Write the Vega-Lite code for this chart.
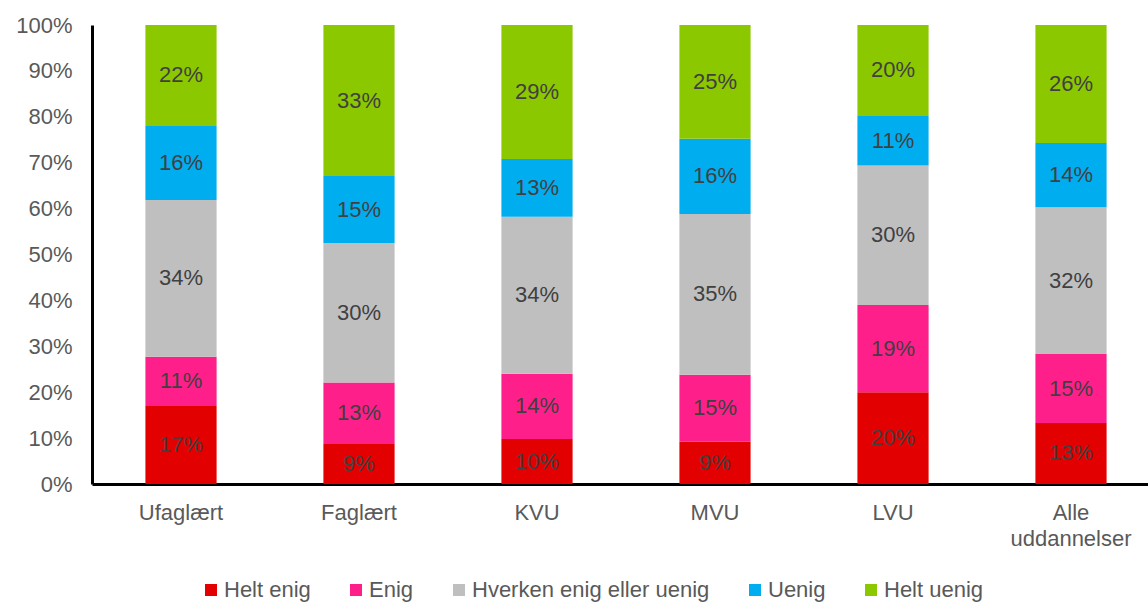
{
  "$schema": "https://vega.github.io/schema/vega-lite/v6.json",
  "autosize": "none",
  "padding": {"left": 92, "top": 25, "right": 0, "bottom": 119},
  "width": 1068,
  "height": 459,
  "background": "white",
  "config": {
    "view": {"stroke": null},
    "font": "Liberation Sans"
  },
  "data": {
    "values": [
      {"edu": "Ufaglært", "answer": "Helt enig", "v": 17.0},
      {"edu": "Ufaglært", "answer": "Enig", "v": 10.7},
      {"edu": "Ufaglært", "answer": "Hverken enig eller uenig", "v": 34.2},
      {"edu": "Ufaglært", "answer": "Uenig", "v": 16.1},
      {"edu": "Ufaglært", "answer": "Helt uenig", "v": 22.0},
      {"edu": "Faglært", "answer": "Helt enig", "v": 8.7},
      {"edu": "Faglært", "answer": "Enig", "v": 13.4},
      {"edu": "Faglært", "answer": "Hverken enig eller uenig", "v": 30.4},
      {"edu": "Faglært", "answer": "Uenig", "v": 14.6},
      {"edu": "Faglært", "answer": "Helt uenig", "v": 32.9},
      {"edu": "KVU", "answer": "Helt enig", "v": 9.8},
      {"edu": "KVU", "answer": "Enig", "v": 14.2},
      {"edu": "KVU", "answer": "Hverken enig eller uenig", "v": 34.2},
      {"edu": "KVU", "answer": "Uenig", "v": 12.6},
      {"edu": "KVU", "answer": "Helt uenig", "v": 29.2},
      {"edu": "MVU", "answer": "Helt enig", "v": 9.2},
      {"edu": "MVU", "answer": "Enig", "v": 14.6},
      {"edu": "MVU", "answer": "Hverken enig eller uenig", "v": 35.0},
      {"edu": "MVU", "answer": "Uenig", "v": 16.4},
      {"edu": "MVU", "answer": "Helt uenig", "v": 24.8},
      {"edu": "LVU", "answer": "Helt enig", "v": 20.0},
      {"edu": "LVU", "answer": "Enig", "v": 19.0},
      {"edu": "LVU", "answer": "Hverken enig eller uenig", "v": 30.4},
      {"edu": "LVU", "answer": "Uenig", "v": 10.8},
      {"edu": "LVU", "answer": "Helt uenig", "v": 19.8},
      {"edu": "Alle uddannelser", "answer": "Helt enig", "v": 13.3},
      {"edu": "Alle uddannelser", "answer": "Enig", "v": 15.0},
      {"edu": "Alle uddannelser", "answer": "Hverken enig eller uenig", "v": 32.0},
      {"edu": "Alle uddannelser", "answer": "Uenig", "v": 14.0},
      {"edu": "Alle uddannelser", "answer": "Helt uenig", "v": 25.7}
    ]
  },
  "transform": [
    {"calculate": "indexof(['Helt enig','Enig','Hverken enig eller uenig','Uenig','Helt uenig'], datum.answer)", "as": "ord"},
    {"stack": "v", "groupby": ["edu"], "sort": [{"field": "ord", "order": "ascending"}], "as": ["v0", "v1"]},
    {"calculate": "(datum.v0 + datum.v1) / 2", "as": "mid"},
    {"calculate": "datum.v / 100", "as": "frac"}
  ],
  "encoding": {
    "x": {
      "field": "edu",
      "type": "nominal",
      "sort": ["Ufaglært", "Faglært", "KVU", "MVU", "LVU", "Alle uddannelser"],
      "scale": {"paddingInner": 0.6, "paddingOuter": 0.3},
      "axis": {
        "title": null,
        "labelAngle": 0,
        "labelFontSize": 22,
        "labelColor": "#595959",
        "labelPadding": 18,
        "labelLineHeight": 26,
        "labelExpr": "datum.value == 'Alle uddannelser' ? ['Alle', 'uddannelser'] : datum.value",
        "ticks": false,
        "domainColor": "#000000",
        "domainWidth": 3
      }
    }
  },
  "layer": [
    {
      "mark": {"type": "bar"},
      "encoding": {
        "y": {
          "field": "v0",
          "type": "quantitative",
          "scale": {"domain": [0, 100], "nice": false},
          "axis": {
            "title": null,
            "values": [0, 10, 20, 30, 40, 50, 60, 70, 80, 90, 100],
            "labelExpr": "datum.value + '%'",
            "labelFontSize": 22,
            "labelColor": "#595959",
            "labelPadding": 20,
            "grid": false,
            "ticks": false,
            "domainColor": "#000000",
            "domainWidth": 3
          }
        },
        "y2": {"field": "v1"},
        "color": {
          "field": "answer",
          "type": "nominal",
          "scale": {
            "domain": ["Helt enig", "Enig", "Hverken enig eller uenig", "Uenig", "Helt uenig"],
            "range": ["#E30000", "#FF1F8A", "#BFBFBF", "#00ADEF", "#8CC800"]
          },
          "legend": {
            "title": null,
            "orient": "none",
            "legendX": 108,
            "legendY": 554,
            "direction": "horizontal",
            "symbolType": "square",
            "symbolSize": 144,
            "symbolStrokeWidth": 0,
            "labelFontSize": 22,
            "labelColor": "#595959",
            "labelOffset": 2,
            "columnPadding": 34,
            "labelLimit": 400
          }
        }
      }
    },
    {
      "mark": {"type": "text", "fontSize": 22, "color": "#404040", "baseline": "middle"},
      "encoding": {
        "y": {"field": "mid", "type": "quantitative"},
        "text": {"field": "frac", "type": "quantitative", "format": ".0%"}
      }
    }
  ]
}
